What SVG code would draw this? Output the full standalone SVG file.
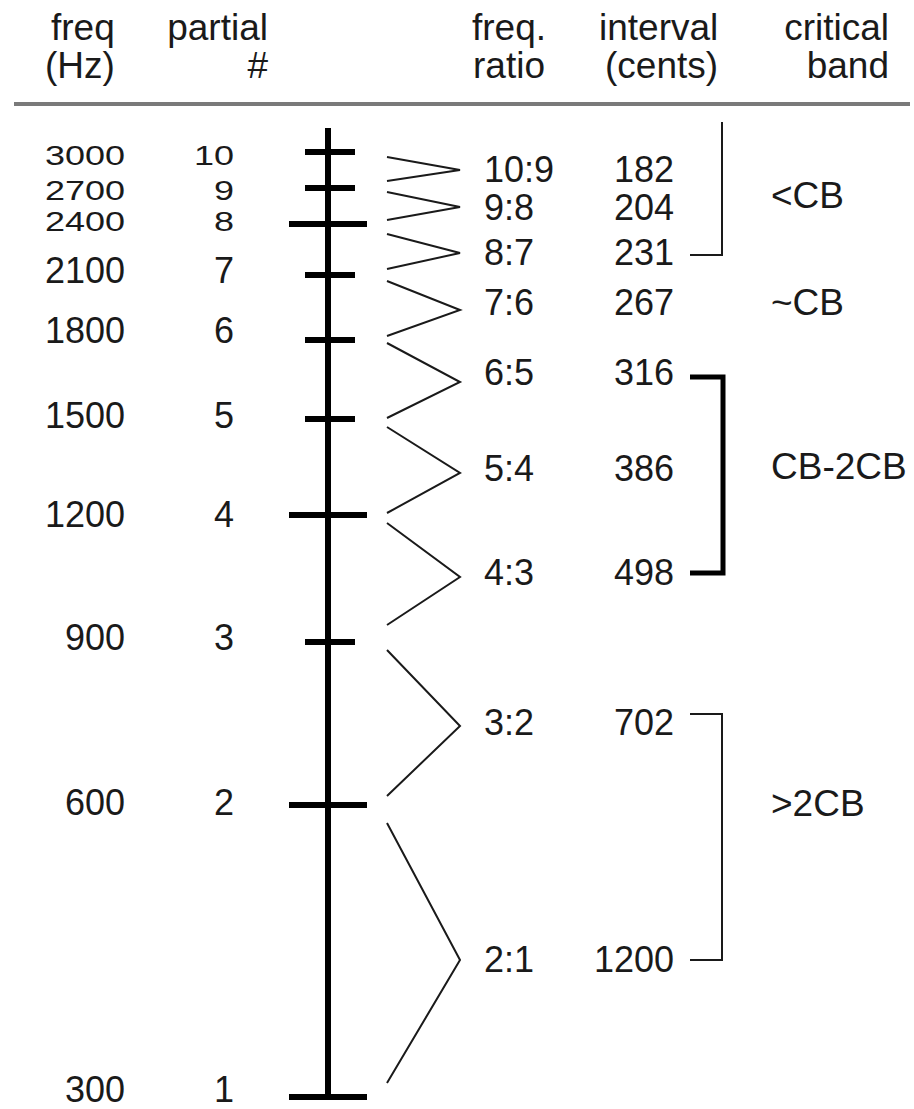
<svg xmlns="http://www.w3.org/2000/svg" width="914" height="1109" viewBox="0 0 914 1109">
<style>
  text { font-family: "Liberation Sans", Arial, Helvetica, sans-serif; fill: #1a1a1a; }
  .hd { font-size: 37px; }
  .num { font-size: 36px; }
  .band { font-size: 37px; }
  .end { text-anchor: end; }
  .tick { stroke: #000; stroke-width: 6; }
  .axis { stroke: #000; stroke-width: 6; fill: none; }
  .chev { stroke: #1a1a1a; stroke-width: 2; fill: none; stroke-linejoin: miter; }
  .thin { stroke: #1a1a1a; stroke-width: 2; fill: none; }
  .thick { stroke: #000; stroke-width: 5; fill: none; }
</style>
<rect width="914" height="1109" fill="#fff"/>

<g id="header">
  <text class="hd" x="51" y="40">freq</text>
  <text class="hd" x="45" y="78">(Hz)</text>
  <text class="hd end" x="268" y="40">partial</text>
  <text class="hd end" x="268" y="78">#</text>
  <text class="hd" x="472" y="40">freq.</text>
  <text class="hd" x="473" y="78">ratio</text>
  <text class="hd" x="599" y="40">interval</text>
  <text class="hd" x="605" y="78">(cents)</text>
  <text class="hd end" x="889" y="40">critical</text>
  <text class="hd end" x="889" y="78">band</text>
  <line x1="14" y1="104" x2="910" y2="104" stroke="#7a7a7a" stroke-width="4"/>
</g>

<g id="axis">
  <line class="axis" x1="328" y1="128" x2="328" y2="1097"/>
  <line class="tick" x1="305" y1="152" x2="355" y2="152"/>
  <line class="tick" x1="305" y1="188" x2="355" y2="188"/>
  <line class="tick" x1="289" y1="224" x2="367" y2="224"/>
  <line class="tick" x1="305" y1="275" x2="355" y2="275"/>
  <line class="tick" x1="305" y1="340" x2="355" y2="340"/>
  <line class="tick" x1="305" y1="419" x2="355" y2="419"/>
  <line class="tick" x1="289" y1="515" x2="367" y2="515"/>
  <line class="tick" x1="305" y1="642" x2="355" y2="642"/>
  <line class="tick" x1="289" y1="805" x2="367" y2="805"/>
  <line class="tick" x1="289" y1="1097" x2="367" y2="1097"/>
</g>

<g id="freq-labels">
  <text class="num end" transform="translate(125,165) scale(1,0.76)">3000</text>
  <text class="num end" transform="translate(125,200) scale(1,0.76)">2700</text>
  <text class="num end" transform="translate(125,231) scale(1,0.76)">2400</text>
  <text class="num end" x="125" y="283">2100</text>
  <text class="num end" x="125" y="343">1800</text>
  <text class="num end" x="125" y="428">1500</text>
  <text class="num end" x="125" y="527">1200</text>
  <text class="num end" x="125" y="650">900</text>
  <text class="num end" x="125" y="815">600</text>
  <text class="num end" x="125" y="1102">300</text>
</g>

<g id="partial-labels">
  <text class="num end" transform="translate(234,165) scale(1,0.76)">10</text>
  <text class="num end" transform="translate(234,200) scale(1,0.76)">9</text>
  <text class="num end" transform="translate(234,231) scale(1,0.76)">8</text>
  <text class="num end" x="234" y="283">7</text>
  <text class="num end" x="234" y="343">6</text>
  <text class="num end" x="234" y="428">5</text>
  <text class="num end" x="234" y="527">4</text>
  <text class="num end" x="234" y="650">3</text>
  <text class="num end" x="234" y="815">2</text>
  <text class="num end" x="234" y="1102">1</text>
</g>

<g id="connectors">
  <polyline class="chev" points="387,157 460,170 387,181"/>
  <polyline class="chev" points="387,192 460,207 387,220"/>
  <polyline class="chev" points="387,234 460,253 387,269"/>
  <polyline class="chev" points="387,281 460,310 387,336"/>
  <polyline class="chev" points="387,343 460,382 387,418"/>
  <polyline class="chev" points="387,427 460,473 387,513"/>
  <polyline class="chev" points="387,523 460,577 387,625"/>
  <polyline class="chev" points="387,650 460,726 387,796"/>
  <polyline class="chev" points="387,823 460,960 387,1083"/>
</g>

<g id="ratio-labels">
  <text class="num" x="484" y="182">10:9</text>
  <text class="num" x="484" y="220">9:8</text>
  <text class="num" x="484" y="265">8:7</text>
  <text class="num" x="484" y="315">7:6</text>
  <text class="num" x="484" y="385">6:5</text>
  <text class="num" x="484" y="481">5:4</text>
  <text class="num" x="484" y="585">4:3</text>
  <text class="num" x="484" y="735">3:2</text>
  <text class="num" x="484" y="972">2:1</text>
</g>

<g id="cents-labels">
  <text class="num end" x="674" y="182">182</text>
  <text class="num end" x="674" y="220">204</text>
  <text class="num end" x="674" y="265">231</text>
  <text class="num end" x="674" y="315">267</text>
  <text class="num end" x="674" y="385">316</text>
  <text class="num end" x="674" y="481">386</text>
  <text class="num end" x="674" y="585">498</text>
  <text class="num end" x="674" y="735">702</text>
  <text class="num end" x="674" y="972">1200</text>
</g>

<g id="band-lt-cb">
  <polyline class="thin" points="722,122 722,255 690,255"/>
  <text class="band" x="771" y="208">&lt;CB</text>
</g>
<g id="band-approx-cb">
  <text class="band" x="771" y="315">~CB</text>
</g>
<g id="band-cb-2cb">
  <polyline class="thick" points="690,377 723,377 723,573 690,573"/>
  <text class="band" x="771" y="479">CB-2CB</text>
</g>
<g id="band-gt-2cb">
  <polyline class="thin" points="690,714 722,714 722,960 690,960"/>
  <text class="band" x="771" y="816">&gt;2CB</text>
</g>
</svg>
